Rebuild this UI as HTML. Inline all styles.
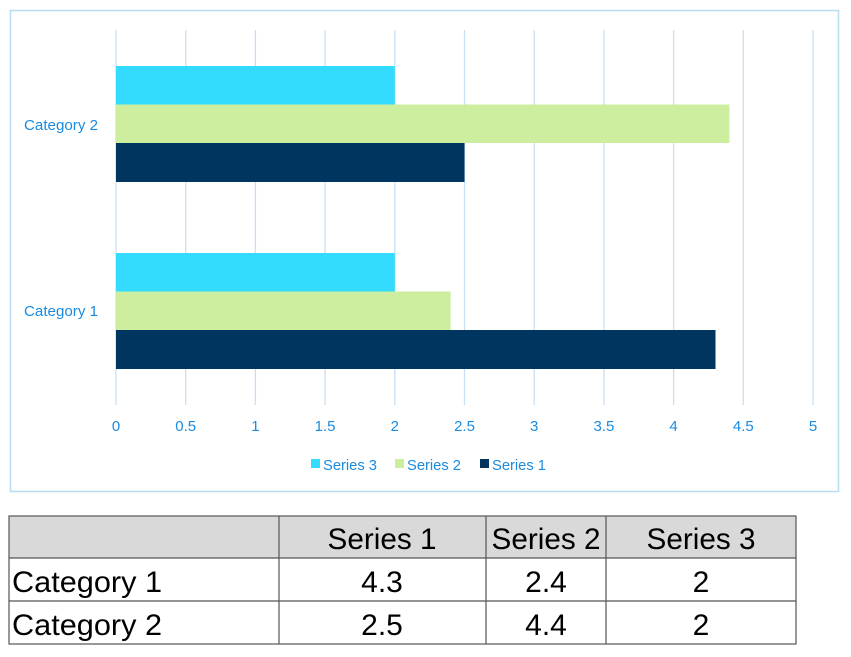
<!DOCTYPE html>
<html><head><meta charset="utf-8"><style>
body{margin:0;background:#fff;width:851px;height:657px;overflow:hidden;font-family:"Liberation Sans",sans-serif}
</style></head><body>
<svg width="851" height="657" xmlns="http://www.w3.org/2000/svg" style="position:absolute;left:0;top:0">
<rect x="10.5" y="10.5" width="828" height="481" fill="#fff" stroke="#b8dcf2" stroke-width="1.5"/>
<g stroke="#c8e0f4" stroke-width="1.3">
<line x1="116" y1="30" x2="116" y2="405"/><line x1="185.7" y1="30" x2="185.7" y2="405"/>
<line x1="255.4" y1="30" x2="255.4" y2="405"/><line x1="325.1" y1="30" x2="325.1" y2="405"/>
<line x1="394.8" y1="30" x2="394.8" y2="405"/><line x1="464.5" y1="30" x2="464.5" y2="405"/>
<line x1="534.2" y1="30" x2="534.2" y2="405"/><line x1="603.9" y1="30" x2="603.9" y2="405"/>
<line x1="673.6" y1="30" x2="673.6" y2="405"/><line x1="743.3" y1="30" x2="743.3" y2="405"/>
<line x1="813" y1="30" x2="813" y2="405"/>
</g>
<rect x="116" y="66" width="278.8" height="38.5" fill="#33dcff"/>
<rect x="116" y="104.5" width="613.4" height="38.5" fill="#ccee9e"/>
<rect x="116" y="143" width="348.5" height="39" fill="#003560"/>
<rect x="116" y="253" width="278.8" height="38.5" fill="#33dcff"/>
<rect x="116" y="291.5" width="334.6" height="38.5" fill="#ccee9e"/>
<rect x="116" y="330" width="599.5" height="39" fill="#003560"/>
<g fill="#1a8be0" font-size="15" text-anchor="middle">
<text x="116" y="431">0</text><text x="185.7" y="431">0.5</text><text x="255.4" y="431">1</text>
<text x="325.1" y="431">1.5</text><text x="394.8" y="431">2</text><text x="464.5" y="431">2.5</text>
<text x="534.2" y="431">3</text><text x="603.9" y="431">3.5</text><text x="673.6" y="431">4</text>
<text x="743.3" y="431">4.5</text><text x="813" y="431">5</text>
</g>
<g fill="#1a8be0" font-size="15">
<text x="24" y="130" textLength="74" lengthAdjust="spacingAndGlyphs">Category 2</text>
<text x="24" y="316" textLength="74" lengthAdjust="spacingAndGlyphs">Category 1</text>
</g>
<g font-size="15" fill="#1a8be0">
<rect x="311" y="459" width="9" height="9" fill="#33dcff"/><text x="323" y="470" textLength="54" lengthAdjust="spacingAndGlyphs">Series 3</text>
<rect x="395" y="459" width="9" height="9" fill="#ccee9e"/><text x="407" y="470" textLength="54" lengthAdjust="spacingAndGlyphs">Series 2</text>
<rect x="480" y="459" width="9" height="9" fill="#003560"/><text x="492" y="470" textLength="54" lengthAdjust="spacingAndGlyphs">Series 1</text>
</g>
<rect x="9" y="516" width="787" height="42" fill="#d9d9d9"/>
<g stroke="#555" stroke-width="1.2" fill="none">
<rect x="9" y="516" width="787" height="128"/>
<line x1="9" y1="558" x2="796" y2="558"/><line x1="9" y1="601" x2="796" y2="601"/>
<line x1="279" y1="516" x2="279" y2="644"/><line x1="486" y1="516" x2="486" y2="644"/>
<line x1="606" y1="516" x2="606" y2="644"/>
</g>
<g font-size="30" fill="#000" text-anchor="middle">
<text x="382" y="549" textLength="109" lengthAdjust="spacingAndGlyphs">Series 1</text>
<text x="546" y="549" textLength="109" lengthAdjust="spacingAndGlyphs">Series 2</text>
<text x="701" y="549" textLength="109" lengthAdjust="spacingAndGlyphs">Series 3</text>
<text x="382" y="592">4.3</text><text x="546" y="592">2.4</text><text x="701" y="592">2</text>
<text x="382" y="635">2.5</text><text x="546" y="635">4.4</text><text x="701" y="635">2</text>
</g>
<g font-size="30" fill="#000">
<text x="12" y="592" textLength="150" lengthAdjust="spacingAndGlyphs">Category 1</text>
<text x="12" y="635" textLength="150" lengthAdjust="spacingAndGlyphs">Category 2</text>
</g>
</svg>
</body></html>
